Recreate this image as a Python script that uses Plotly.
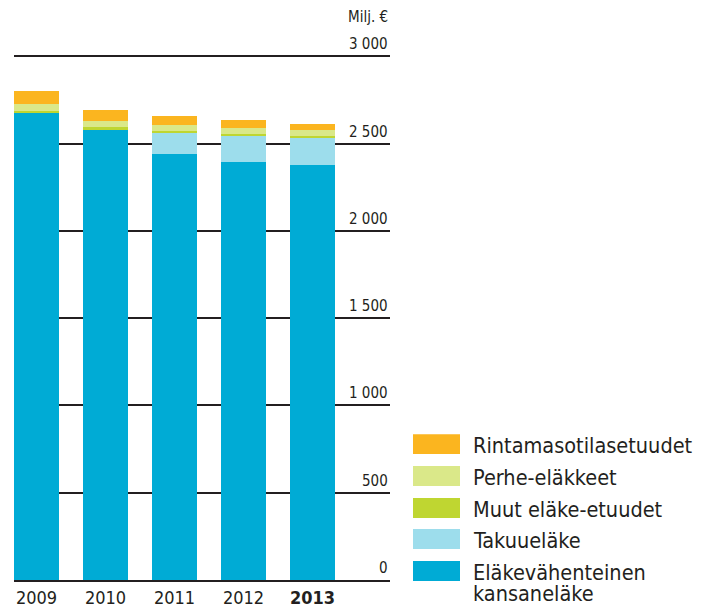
import plotly.graph_objects as go

years = ["2009", "2010", "2011", "2012", "2013"]
year_labels = ["2009", "2010", "2011", "2012", "<b>2013</b>"]

# values in million euros, bottom to top
kansanelake = [2680, 2582, 2439, 2393, 2376]
takuuelake = [0, 0, 126, 155, 158]
muut = [8, 11, 6, 7, 8]
perhe = [38, 35, 35, 33, 34]
rintama = [75, 63, 53, 46, 35]

y_ticks = [0, 500, 1000, 1500, 2000, 2500, 3000]
y_tick_labels = ["0", "500", "1 000", "1 500", "2 000", "2 500", "3 000"]

series = [
    (["Eläkevähenteinen", "kansaneläke"], kansanelake, "#00ABD5"),
    (["Takuueläke"], takuuelake, "#9DDDEC"),
    (["Muut eläke-etuudet"], muut, "#BFD631"),
    (["Perhe-eläkkeet"], perhe, "#DAE889"),
    (["Rintamasotilasetuudet"], rintama, "#FBB51F"),
]

FONT = "DejaVu Sans Condensed, Liberation Sans Narrow, Liberation Sans, sans-serif"
TXT = "#231F20"

fig = go.Figure()
xs = list(range(len(years)))
for name, vals, col in series:
    fig.add_trace(go.Bar(x=xs, y=vals, name=" ".join(name), marker=dict(color=col, line=dict(width=0)),
                         width=0.652, showlegend=False))

# page geometry (the page body has an 8px margin)
OFF = 8
W, H = 701 - OFF, 611 - OFF
YMAX = 3100
L, R, B = 14, 390, 580
T = B - YMAX * (580 - 56) / 3000

def px_x(px):
    return (px - L) / (R - L)

def px_y(py):
    return (B - py) / (B - T)

# y tick labels above grid lines
for v, lab in zip(y_ticks, y_tick_labels):
    fig.add_annotation(x=1, xref="paper", y=v, yref="y", text=lab, showarrow=False,
                       xanchor="right", yanchor="bottom", yshift=1,
                       font=dict(family=FONT, size=15, color=TXT))
fig.add_annotation(x=1, xref="paper", y=px_y(17), yref="paper", text="Milj. €", showarrow=False,
                   xanchor="right", yanchor="middle",
                   font=dict(family=FONT, size=15, color=TXT))

# custom legend
legend_rows = list(reversed(series))
row_centers = [444, 476, 508, 539, 571]
for (name, vals, col), cy in zip(legend_rows, row_centers):
    fig.add_shape(type="rect", xref="paper", yref="paper",
                  x0=px_x(413), x1=px_x(460), y0=px_y(cy + 10), y1=px_y(cy - 10),
                  fillcolor=col, line=dict(width=0))
    for i, line in enumerate(name):
        fig.add_annotation(x=px_x(471), xref="paper", y=px_y(cy + 1 + 22 * i), yref="paper",
                           text=line, showarrow=False, xanchor="left", yanchor="middle",
                           font=dict(family=FONT, size=21.5, color=TXT))

fig.update_layout(
    barmode="stack",
    width=W, height=H,
    margin=dict(l=L - OFF, r=W - (R - OFF), t=T - OFF, b=H - (B - OFF), autoexpand=False),
    plot_bgcolor="white", paper_bgcolor="white",
    bargap=0,
    xaxis=dict(range=[-0.326, 5.123], tickvals=xs, ticktext=year_labels, automargin=False,
               showgrid=False, zeroline=False, showline=True, linecolor=TXT, linewidth=2,
               ticks="", tickfont=dict(family=FONT, size=18, color=TXT)),
    yaxis=dict(range=[0, YMAX], tickvals=y_ticks, showticklabels=False, automargin=False,
               showgrid=True, gridcolor=TXT, gridwidth=1.6, zeroline=False, layer="below traces"),
)

fig.write_html("out.html")
